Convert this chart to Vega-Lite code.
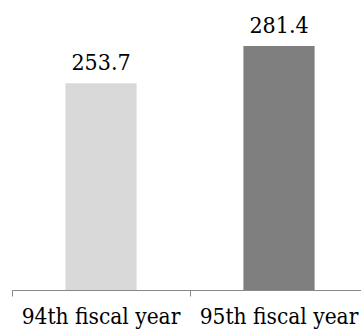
{
  "$schema": "https://vega.github.io/schema/vega-lite/v6.json",
  "width": 361,
  "height": 269,
  "autosize": "none",
  "padding": {"left": 0, "top": 21, "right": 0, "bottom": 41},
  "background": "white",
  "config": {"view": {"stroke": null}},
  "data": {"values": [
    {"year": "94th fiscal year", "value": 253.7},
    {"year": "95th fiscal year", "value": 281.4}
  ]},
  "encoding": {
    "x": {"field": "year", "type": "nominal", "sort": null,
      "scale": {"range": [12, 368], "paddingInner": 0, "paddingOuter": 0},
      "axis": {"title": null, "labelAngle": 0, "bandPosition": 0, "domainColor": "#878787", "tickColor": "#878787", "tickSize": 6, "labelFontSize": 22.5, "labelColor": "black", "labelPadding": 9, "labelFont": "DejaVu Serif Condensed"}},
    "y": {"field": "value", "type": "quantitative", "scale": {"domain": [100, 300], "zero": false, "nice": false}, "axis": null}
  },
  "layer": [
    {"mark": {"type": "bar", "width": {"band": 0.4}, "clip": true},
     "encoding": {
       "y2": {"datum": 100},
       "color": {"field": "year", "type": "nominal", "legend": null, "scale": {"range": ["#d9d9d9", "#7f7f7f"]}}
     }},
    {"mark": {"type": "text", "baseline": "alphabetic", "dy": -13, "fontSize": 23, "font": "DejaVu Serif Condensed", "color": "black"},
     "encoding": {"text": {"field": "value", "type": "quantitative", "format": ".1f"}}}
  ]
}
